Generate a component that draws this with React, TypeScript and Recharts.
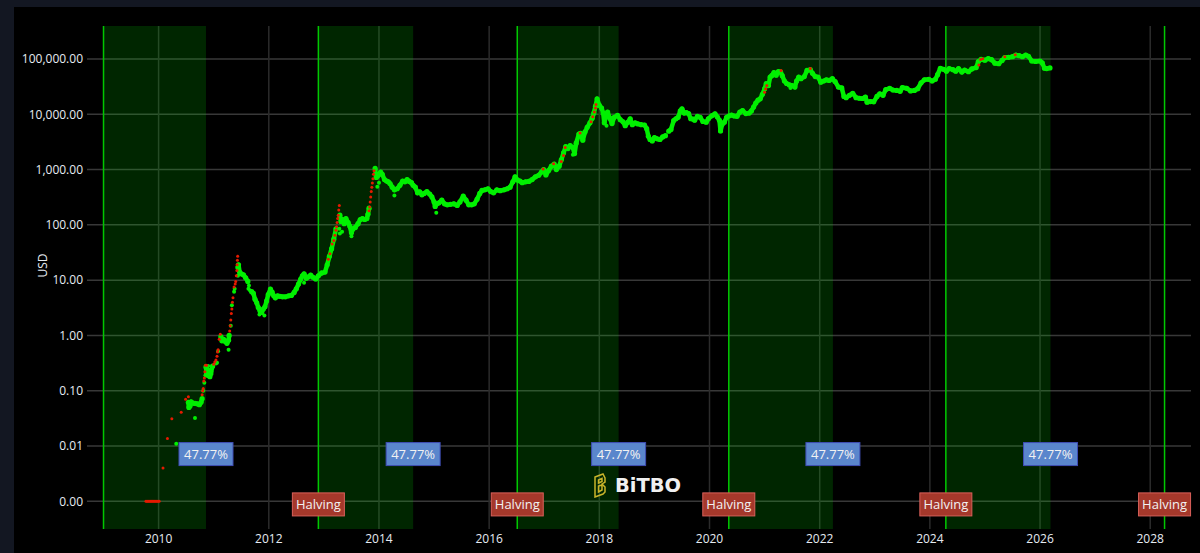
import { ComposedChart, Line, Scatter, XAxis, YAxis, CartesianGrid, ReferenceArea, ReferenceLine, ReferenceDot } from "recharts";

const yearTicks = [2010, 2012, 2014, 2016, 2018, 2020, 2022, 2024, 2026, 2028];
const priceTicks = [0.001, 0.01, 0.1, 1, 10, 100, 1000, 10000, 100000];

// cycle start / end, in decimal years
const cycleBands = [
  [2009.0, 2010.86],
  [2012.9, 2014.62],
  [2016.51, 2018.35],
  [2020.35, 2022.24],
  [2024.29, 2026.19],
];
const halvings = [2012.9, 2016.51, 2020.35, 2024.29, 2028.26];
const percentLabel = "47.77%";

// main price trace, [year, usd], null breaks the line
const greenTrace: [number, number | null][] = [
  [2010.54, 0.062], [2010.55, 0.05], [2010.57, 0.053], [2010.59, 0.063], [2010.62, 0.06], [2010.66, 0.059], [2010.7, 0.058], [2010.74, 0.056], [2010.77, 0.062], [2010.79, 0.072], [2010.8, null],
  [2010.86, 0.27], [2010.87, 0.2], [2010.89, 0.19], [2010.91, 0.2], [2010.93, 0.18], [2010.95, 0.22], [2010.98, 0.28], [2011.0, null],
  [2011.13, 0.95], [2011.15, 0.8], [2011.18, 0.85], [2011.21, 0.78], [2011.24, 0.72], [2011.27, 0.82], [2011.28, 1.0], [2011.29, null],
  [2011.44, 17], [2011.45, 19], [2011.47, 14], [2011.5, 13], [2011.54, 12.5], [2011.58, 11], [2011.62, 9.5], [2011.64, null],
  [2011.69, 6.2], [2011.72, 5.8], [2011.75, 4.5], [2011.78, 3.9], [2011.81, 3.2], [2011.84, 2.8], [2011.87, 2.6], [2011.9, 3], [2011.93, 3.3], [2011.96, 4.2], [2011.99, 5.5], [2012.03, 6.9], [2012.06, 6.1], [2012.09, 5.2], [2012.12, 4.8], [2012.16, 5.2], [2012.2, 5.1], [2012.25, 5], [2012.3, 5], [2012.36, 5.2], [2012.41, 5.3], [2012.46, 6], [2012.5, 7], [2012.54, 8.5], [2012.58, 10.5], [2012.61, 12], [2012.64, 13], [2012.68, 10.8], [2012.72, 11.5], [2012.76, 12.3], [2012.8, 11.3], [2012.85, 10.5], [2012.9, 12], [2012.96, 13.5], [2013.02, 14], [2013.06, 19], [2013.1, 27], [2013.14, 37], [2013.18, 55], [2013.22, 85], [2013.24, null],
  [2013.29, 150], [2013.31, 115], [2013.34, 125], [2013.37, 105], [2013.4, 130], [2013.44, 110], [2013.47, 95], [2013.5, 72], [2013.53, 85], [2013.57, 90], [2013.62, 105], [2013.66, 125], [2013.7, 130], [2013.74, 125], [2013.78, 130], [2013.8, 155], [2013.82, 200], [2013.84, null],
  [2013.93, 1050], [2013.95, 720], [2013.97, 760], [2013.99, 800], [2014.03, 900], [2014.06, 820], [2014.1, 660], [2014.14, 620], [2014.17, 600], [2014.2, 560], [2014.24, 480], [2014.28, 430], [2014.33, 450], [2014.38, 520], [2014.43, 620], [2014.47, 600], [2014.51, 660], [2014.55, 610], [2014.59, 580], [2014.62, 520], [2014.66, 480], [2014.7, 380], [2014.74, 395], [2014.78, 350], [2014.82, 370], [2014.87, 400], [2014.92, 360], [2014.96, 320], [2015.0, 260], [2015.02, 215], [2015.05, 240], [2015.09, 250], [2015.14, 280], [2015.19, 240], [2015.24, 230], [2015.3, 235], [2015.36, 240], [2015.42, 225], [2015.47, 260], [2015.53, 330], [2015.58, 280], [2015.63, 230], [2015.68, 230], [2015.73, 240], [2015.78, 290], [2015.83, 370], [2015.87, 420], [2015.92, 430], [2015.98, 450], [2016.03, 400], [2016.08, 380], [2016.14, 430], [2016.2, 415], [2016.27, 430], [2016.33, 450], [2016.38, 480], [2016.43, 600], [2016.47, 740], [2016.51, 650], [2016.56, 620], [2016.6, 580], [2016.66, 600], [2016.72, 610], [2016.78, 660], [2016.84, 740], [2016.9, 790], [2016.95, 900], [2016.99, 1000], [2017.03, 800], [2017.08, 960], [2017.13, 1150], [2017.18, 1250], [2017.22, 1000], [2017.27, 1150], [2017.31, 1500], [2017.35, 2000], [2017.39, 2600], [2017.43, 2400], [2017.47, 2700], [2017.52, 2500], [2017.55, 1950], [2017.58, 3000], [2017.63, 4400], [2017.66, 4500], [2017.7, 3400], [2017.74, 4800], [2017.78, 5800], [2017.83, 7000], [2017.87, 8500], [2017.9, 10500], [2017.93, 14000], [2017.96, 19000], [2018.0, 14500], [2018.04, 13000], [2018.07, 10500], [2018.09, 7000], [2018.12, 9500], [2018.15, 11000], [2018.19, 8500], [2018.23, 6800], [2018.27, 8800], [2018.33, 9600], [2018.38, 8000], [2018.43, 7300], [2018.47, 6200], [2018.52, 7200], [2018.56, 8300], [2018.6, 6500], [2018.65, 7000], [2018.7, 6700], [2018.76, 6500], [2018.82, 6400], [2018.86, 5500], [2018.89, 4000], [2018.92, 3500], [2018.96, 3300], [2019.0, 3800], [2019.05, 3600], [2019.1, 3500], [2019.15, 3900], [2019.2, 4100], [2019.22, null],
  [2019.26, 4950], [2019.3, 5300], [2019.35, 7700], [2019.39, 8300], [2019.43, 8800], [2019.47, 11500], [2019.5, 12500], [2019.54, 10500], [2019.58, 10700], [2019.62, 10300], [2019.66, 8300], [2019.7, 8200], [2019.73, 7800], [2019.78, 9200], [2019.83, 8800], [2019.88, 7400], [2019.94, 7200], [2019.98, 8300], [2020.04, 9400], [2020.1, 10200], [2020.14, 9000], [2020.18, 7800], [2020.2, 5000], [2020.23, 6600], [2020.27, 7200], [2020.31, 8800], [2020.35, 9300], [2020.4, 9700], [2020.45, 9300], [2020.5, 9200], [2020.55, 10900], [2020.6, 11700], [2020.66, 10300], [2020.72, 10500], [2020.76, 11500], [2020.8, 13500], [2020.84, 16000], [2020.88, 18000], [2020.92, 19000], [2020.96, 23000], [2021.0, 29000], [2021.03, 36000], [2021.07, 33000], [2021.1, 47000], [2021.13, 50000], [2021.17, 57000], [2021.21, 51000], [2021.25, 59000], [2021.29, 58000], [2021.32, 50000], [2021.36, 40000], [2021.4, 36000], [2021.45, 34000], [2021.5, 33000], [2021.55, 31000], [2021.58, 40000], [2021.62, 47000], [2021.66, 44000], [2021.72, 48000], [2021.77, 62000], [2021.83, 64000], [2021.87, 55000], [2021.92, 48000], [2021.97, 47000], [2022.02, 38000], [2022.07, 40000], [2022.12, 42000], [2022.17, 41000], [2022.23, 44000], [2022.28, 39000], [2022.34, 31000], [2022.4, 30000], [2022.44, 21000], [2022.48, 20000], [2022.54, 22000], [2022.6, 24000], [2022.66, 20000], [2022.72, 19500], [2022.78, 19300], [2022.83, 20500], [2022.86, 16500], [2022.92, 17000], [2022.98, 16800], [2023.04, 21000], [2023.09, 23500], [2023.15, 22000], [2023.2, 28000], [2023.27, 29500], [2023.33, 27500], [2023.4, 27000], [2023.46, 26000], [2023.5, 30500], [2023.58, 29500], [2023.65, 26500], [2023.72, 27000], [2023.78, 29000], [2023.84, 37000], [2023.9, 42000], [2023.98, 43000], [2024.04, 40000], [2024.1, 43000], [2024.14, 52000], [2024.19, 68000], [2024.25, 65000], [2024.3, 60000], [2024.35, 67000], [2024.42, 64000], [2024.47, 60000], [2024.52, 67000], [2024.58, 58000], [2024.63, 63000], [2024.7, 59000], [2024.76, 66000], [2024.84, 70000], [2024.88, 90000], [2024.93, 98000], [2025.0, 95000], [2025.06, 102000], [2025.12, 97000], [2025.18, 84000], [2025.25, 82000], [2025.31, 94000], [2025.36, 106000], [2025.43, 107000], [2025.5, 110000], [2025.56, 118000], [2025.62, 115000], [2025.68, 110000], [2025.74, 118000], [2025.79, 112000], [2025.85, 92000], [2025.92, 90000], [2026.0, 92000], [2026.04, 85000], [2026.08, 68000], [2026.12, 67000], [2026.18, 69000],
];

// lone green prints off the trace
const greenDots: [number, number][] = [
  [2010.32, 0.011], [2010.66, 0.032], [2010.81, 0.1], [2010.83, 0.14], [2010.85, 0.19], [2010.88, 0.26], [2010.9, 0.28], [2010.92, 0.24], [2010.96, 0.2], [2011.04, 0.31], [2011.06, 0.32], [2011.08, 0.52], [2011.27, 0.55], [2011.31, 1.5], [2011.33, 3.5], [2011.37, 6.2], [2011.38, 7], [2011.44, 12], [2011.64, 8], [2011.66, 6.5], [2011.63, 7], [2011.83, 2.4], [2011.92, 2.3], [2012.64, 9], [2013.29, 70], [2013.28, 85], [2013.33, 75], [2013.5, 62], [2013.97, 490], [2014.0, 580], [2014.28, 340], [2015.04, 165], [2017.52, 1850], [2018.13, 6200], [2021.47, 30000],
];

// overheated days
const redDots: [number, number][] = [
  [2009.77, 0.001], [2009.79, 0.001], [2009.81, 0.001], [2009.83, 0.001], [2009.85, 0.001], [2009.87, 0.001], [2009.89, 0.001], [2009.91, 0.001], [2009.93, 0.001], [2009.95, 0.001], [2009.97, 0.001], [2009.99, 0.001], [2010.01, 0.001],
  [2010.08, 0.004], [2010.16, 0.0137], [2010.24, 0.031], [2010.41, 0.0407], [2010.49, 0.07], [2010.54, 0.078],
  [2010.79, 0.085], [2010.8, 0.1], [2010.81, 0.11], [2010.82, 0.15], [2010.83, 0.17], [2010.84, 0.22], [2010.85, 0.29], [2010.87, 0.29],
  [2011.0, 0.3], [2011.02, 0.33], [2011.04, 0.36], [2011.06, 0.42], [2011.07, 0.5], [2011.08, 0.55], [2011.1, 0.85], [2011.12, 1.05],
  [2011.29, 1.2], [2011.3, 1.5], [2011.31, 1.9], [2011.32, 2.5], [2011.33, 3], [2011.34, 4], [2011.35, 4.8], [2011.37, 7.5], [2011.39, 8.5], [2011.4, 9.5], [2011.41, 12], [2011.42, 15], [2011.425, 19], [2011.43, 23], [2011.435, 27],
  [2013.08, 24], [2013.11, 30], [2013.15, 45], [2013.18, 52], [2013.2, 65], [2013.22, 80], [2013.23, 92], [2013.24, 110], [2013.25, 130], [2013.26, 150], [2013.27, 185], [2013.28, 225],
  [2013.82, 180], [2013.83, 210], [2013.84, 260], [2013.85, 320], [2013.86, 400], [2013.87, 480], [2013.88, 570], [2013.89, 680], [2013.9, 820], [2013.91, 950],
  [2016.98, 1020], [2017.17, 1280], [2017.31, 1400], [2017.35, 1800], [2017.38, 2500], [2017.65, 4600], [2017.85, 7300], [2017.88, 9000], [2017.91, 11000], [2017.93, 13000], [2017.94, 15000],
  [2021.0, 25000], [2021.02, 29000], [2021.04, 33000], [2021.3, 62000], [2021.83, 67000], [2024.89, 78000], [2024.92, 98000], [2024.96, 101000], [2025.36, 110000], [2025.55, 119000],
];

const LABEL_FONT = "'Open Sans', sans-serif";

const toRows = (list: [number, number | null][]) => list.map(([year, price]) => ({ year, price }));

const formatPrice = (v: number) =>
  v.toLocaleString("en-US", { minimumFractionDigits: 2, maximumFractionDigits: 2 });

function TagBox({ cx, cy, text, w, fill, border }: any) {
  return (
    <g>
      <rect x={cx - w / 2} y={cy - 11.5} width={w} height={23} fill={fill} stroke={border} strokeWidth={1} />
      <text x={cx} y={cy + 4.5} textAnchor="middle" fill="#f2f2f2" fontSize={13} fontFamily={LABEL_FONT}>
        {text}
      </text>
    </g>
  );
}

const dotShape = (r: number, fill: string) => (p: any) => <circle cx={p.cx} cy={p.cy} r={r} fill={fill} />;

export default function App() {
  return (
    <div style={{ position: "absolute", left: 0, top: 0, width: 1200, height: 553, background: "#131722", overflow: "hidden" }}>
      <div style={{ position: "absolute", left: 14, top: 7, width: 1186, height: 546, background: "#000" }}>
        <ComposedChart
          width={1186}
          height={546}
          margin={{ top: 19, right: 9, left: 0, bottom: 0 }}
          style={{ fontFamily: LABEL_FONT }}
        >
          {/* horizontal and vertical lines differ in weight */}
          <CartesianGrid stroke="#383838" strokeWidth={1.5} vertical={false} horizontalValues={priceTicks} />
          <CartesianGrid stroke="#2b2b2b" strokeWidth={1.5} horizontal={false} verticalValues={yearTicks} />

          <XAxis
            type="number"
            dataKey="year"
            domain={[2008.7, 2028.74]}
            ticks={yearTicks}
            interval={0}
            allowDataOverflow
            height={24}
            axisLine={false}
            tickLine={false}
            tickSize={0}
            tickMargin={5}
            tick={{ fill: "#e6ebf2", fontSize: 12 }}
            tickFormatter={(v: number) => String(v)}
          />
          <YAxis
            type="number"
            dataKey="price"
            scale="log"
            domain={[0.000316, 395000]}
            ticks={priceTicks}
            interval={0}
            allowDataOverflow
            width={73}
            axisLine={false}
            tickLine={false}
            tickSize={0}
            tickMargin={4}
            tick={{ fill: "#e6ebf2", fontSize: 12 }}
            tickFormatter={formatPrice}
            label={{ value: "USD", angle: -90, position: "insideLeft", offset: 29, fill: "#e6ebf2", fontSize: 12 }}
          />

          {cycleBands.map(([from, to]) => (
            <ReferenceArea key={from} x1={from} x2={to} fill="#00ff00" fillOpacity={0.15} stroke="none" />
          ))}
          {[2009.0, ...halvings].map((x) => (
            <ReferenceLine key={x} x={x} stroke="#00c800" strokeWidth={1.5} />
          ))}

          <Scatter data={toRows(greenDots)} fill="#00f000" shape={dotShape(2, "#00f000")} isAnimationActive={false} />
          <Line
            data={toRows(greenTrace)}
            dataKey="price"
            stroke="#00f000"
            strokeWidth={4.5}
            strokeLinejoin="round"
            dot={{ r: 2.6, fill: "#00f000", stroke: "none" }}
            activeDot={false}
            connectNulls={false}
            isAnimationActive={false}
          />
          <Scatter data={toRows(redDots)} fill="#e61a00" shape={dotShape(1.5, "#e61a00")} isAnimationActive={false} />

          {cycleBands.map(([, to]) => (
            <ReferenceDot
              key={to}
              x={to}
              y={0.00716}
              ifOverflow="visible"
              shape={(p: any) => <TagBox cx={p.cx} cy={p.cy} text={percentLabel} w={54} fill="#5a86cc" border="#3f4db5" />}
            />
          ))}
          {halvings.map((x) => (
            <ReferenceDot
              key={x}
              x={x}
              y={0.00088}
              ifOverflow="visible"
              shape={(p: any) => <TagBox cx={p.cx} cy={p.cy} text="Halving" w={52} fill="#a5382b" border="#d9605a" />}
            />
          ))}
        </ComposedChart>
      </div>

      {/* watermark */}
      <svg style={{ position: "absolute", left: 592, top: 472 }} width={110} height={26}>
        <g fill="none" stroke="#c9b52a" strokeWidth={1.5}>
          <path d="M3 5 L11 2 L13 6 L13 10 L10 12 L13 15 L13 20 L11 22 L3 25 Z" />
          <path d="M6.5 8 L10 6.5 L10 9.5 L6.5 11 Z M6.5 14 L10 13 L10 18 L6.5 20 Z" />
        </g>
        <text x={23} y={20} fill="#f0f0f0" fontSize={19} fontWeight={700} textLength={66} lengthAdjust="spacingAndGlyphs" fontFamily="'DejaVu Sans', sans-serif">
          BiTBO
        </text>
      </svg>
    </div>
  );
}
